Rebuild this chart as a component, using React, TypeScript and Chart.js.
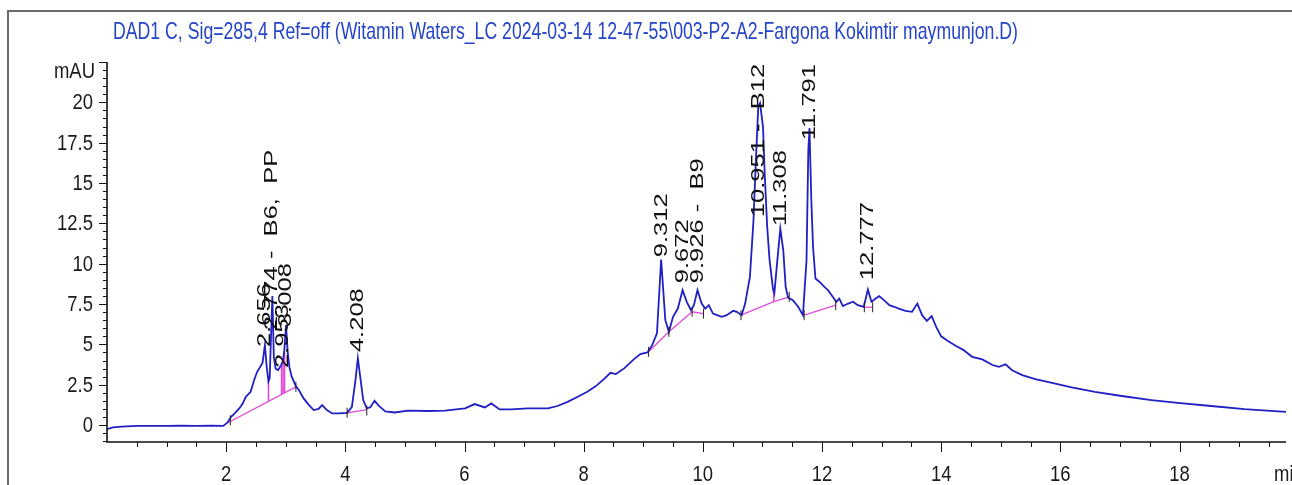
import React, { useEffect, useRef } from "react";
import { Chart, registerables } from "chart.js";

Chart.register(...registerables);

const TITLE =
  "DAD1 C, Sig=285,4 Ref=off (Witamin Waters_LC 2024-03-14 12-47-55\\003-P2-A2-Fargona Kokimtir maymunjon.D)";
const Y_UNIT = "mAU";
const X_UNIT = "min";
const X_TICK_LABELS = [2, 4, 6, 8, 10, 12, 14, 16, 18];
const Y_TICK_LABELS = [0, 2.5, 5, 7.5, 10, 12.5, 15, 17.5, 20];

// retention time (min)
const times = [
  0.0, 0.1, 0.25, 0.5, 0.75, 1.0, 1.25, 1.5, 1.75, 1.95, 2.02, 2.08, 2.15, 2.22, 2.28, 2.33, 2.41, 2.47,
  2.52, 2.57, 2.61, 2.65, 2.68, 2.71, 2.73, 2.775, 2.8, 2.83, 2.87, 2.92, 2.95, 2.975, 3.005, 3.03,
  3.06, 3.1, 3.17, 3.22, 3.3, 3.39, 3.47, 3.55, 3.61, 3.69, 3.78, 3.89, 4.03, 4.11, 4.17, 4.21, 4.25,
  4.3, 4.36, 4.42, 4.49, 4.56, 4.67, 4.83, 5.05, 5.39, 5.67, 6.01, 6.17, 6.34, 6.45, 6.59, 6.79, 7.06,
  7.4, 7.56, 7.73, 7.9, 8.06, 8.2, 8.34, 8.45, 8.54, 8.68, 8.84, 8.95, 9.07, 9.15, 9.23, 9.3, 9.37,
  9.43, 9.5, 9.58, 9.66, 9.73, 9.8, 9.85, 9.91, 9.98, 10.04, 10.1, 10.17, 10.24, 10.32, 10.4, 10.51,
  10.57, 10.65, 10.71, 10.79, 10.85, 10.89, 10.93, 10.96, 11.01, 11.04, 11.08, 11.12, 11.18, 11.2,
  11.24, 11.3, 11.35, 11.39, 11.43, 11.51, 11.6, 11.68, 11.74, 11.77, 11.79, 11.82, 11.85, 11.89,
  11.96, 12.04, 12.1, 12.18, 12.24, 12.29, 12.35, 12.44, 12.52, 12.6, 12.7, 12.77, 12.83, 12.9,
  12.96, 13.04, 13.13, 13.21, 13.29, 13.4, 13.51, 13.6, 13.68, 13.76, 13.84, 13.92, 14.0, 14.12,
  14.25, 14.37, 14.52, 14.69, 14.86, 14.97, 15.08, 15.19, 15.36, 15.58, 15.86, 16.19, 16.58, 17.03,
  17.53, 17.97, 18.53, 19.09, 19.79,
];

// absorbance (mAU)
const signal = [
  -0.25, -0.15, -0.1, -0.05, -0.05, -0.05, -0.03, -0.05, -0.03, -0.05, 0.15, 0.5, 0.75, 1.03, 1.35, 1.75,
  2.06, 2.79, 3.3, 3.6, 3.85, 4.95, 3.6, 2.7, 2.9, 8.0, 4.2, 3.5, 3.4, 3.7, 3.95, 4.6, 6.2, 4.64, 3.6,
  3.0, 2.41, 2.17, 1.65, 1.24, 0.93, 1.0, 1.24, 0.93, 0.72, 0.72, 0.76, 1.13, 2.79, 4.15, 2.99, 1.55,
  1.03, 1.1, 1.5, 1.2, 0.85, 0.78, 0.9, 0.87, 0.89, 1.03, 1.3, 1.09, 1.34, 0.97, 0.97, 1.03, 1.03, 1.18,
  1.44, 1.75, 2.06, 2.4, 2.85, 3.24, 3.16, 3.51, 4.07, 4.4, 4.5, 4.95, 5.68, 10.26, 6.5, 5.78, 6.71,
  7.22, 8.36, 7.64, 7.12, 7.43, 8.36, 7.53, 7.22, 7.43, 6.91, 6.81, 6.71, 6.81, 7.08, 7.02, 6.81, 7.53,
  9.18, 12.69, 16.4, 19.71, 19.95, 18.47, 15.4, 12.28, 10.22, 8.36, 8.15, 9.8, 12.17, 10.83, 8.56, 7.9,
  7.74, 7.33, 6.81, 10.22, 17.0, 18.4, 14.0, 11.0, 9.08, 8.87, 8.56, 8.36, 7.95, 7.64, 7.84, 7.37, 7.53,
  7.64, 7.43, 7.33, 8.4, 7.64, 7.84, 7.99, 7.74, 7.43, 7.33, 7.22, 7.08, 7.02, 7.53, 6.81, 6.45, 6.75,
  6.05, 5.5, 5.2, 4.9, 4.66, 4.23, 4.07, 3.72, 3.61, 3.76, 3.4, 3.1, 2.85, 2.62, 2.33, 2.06, 1.8, 1.55,
  1.38, 1.18, 0.99, 0.82,
];

// integration baselines: [time, mAU] vertices
const baselines = [
  [[2.03, 0.14], [3.17, 2.37]],
  [[4.03, 0.76], [4.36, 0.95]],
  [[9.09, 4.54], [9.43, 5.78], [9.82, 7.02], [10.01, 6.91]],
  [[10.64, 6.81], [11.18, 7.64], [11.45, 7.95]],
  [[11.7, 6.81], [12.23, 7.43]],
  [[12.71, 7.3], [12.85, 7.3]],
];

// peak drop lines: [time, baseline mAU, signal mAU]
const dropLines = [
  [2.71, 1.47, 2.7],
  [2.93, 1.9, 3.7],
  [2.955, 1.95, 3.95],
  [2.98, 2.0, 4.5],
  [11.19, 7.66, 8.2],
];

// integration start/end marks: [time, mAU]
const marks = [
  [2.07, 0.3], [3.17, 2.37], [4.03, 0.76], [4.36, 0.9], [9.09, 4.54], [9.43, 5.78], [9.82, 7.02],
  [10.01, 6.91], [10.64, 6.81], [11.45, 7.95], [11.7, 6.81], [12.23, 7.43], [12.71, 7.3], [12.85, 7.3],
];

const peakRT = [2.656, 2.774, 2.953, 3.008, 4.208, 9.312, 9.672, 9.926, 10.951, 11.308, 11.791, 12.777];
const peakNames = ["", "B6,  PP", "", "", "", "", "", "B9", "B12", "", "", ""];
const labelAnchor = [4.83, 5.88, 3.53, 6.07, 4.52, 10.4, 8.79, 8.79, 12.88, 12.32, 17.65, 8.98];

const TRACE = "#2020c4";
const MAGENTA = "#e04cd8";
const FONT = '"Liberation Sans", Arial, sans-serif';

const decorPlugin = {
  id: "decor",
  afterDraw(chart: any) {
    const ctx: CanvasRenderingContext2D = chart.ctx;
    const xs = chart.scales.x;
    const ys = chart.scales.y;
    const area = chart.chartArea;
    ctx.save();

    // outer frame
    ctx.strokeStyle = "#6a6a6a";
    ctx.lineWidth = 2;
    ctx.beginPath();
    ctx.moveTo(8, 485);
    ctx.lineTo(8, 11);
    ctx.lineTo(1292, 11);
    ctx.stroke();

    // title
    ctx.fillStyle = "#2545c8";
    ctx.font = "24px " + FONT;
    ctx.textAlign = "left";
    ctx.textBaseline = "alphabetic";
    const tw = ctx.measureText(TITLE).width;
    ctx.save();
    ctx.translate(113, 39);
    ctx.scale(905 / tw, 1);
    ctx.fillText(TITLE, 0, 0);
    ctx.restore();

    // axes
    ctx.strokeStyle = "#111";
    ctx.lineWidth = 1.6;
    ctx.beginPath();
    ctx.moveTo(area.left, area.top);
    ctx.lineTo(area.left, area.bottom);
    ctx.lineTo(area.right, area.bottom);
    ctx.stroke();

    ctx.lineWidth = 1;
    ctx.beginPath();
    for (let v = -1; v <= ys.max + 1e-6; v += 0.5) {
      const y = Math.round(ys.getPixelForValue(v)) + 0.5;
      const major = Math.abs(v / 2.5 - Math.round(v / 2.5)) < 1e-6;
      ctx.moveTo(area.left, y);
      ctx.lineTo(area.left - (major ? 8 : 4), y);
    }
    for (let t = 0.5; t <= xs.max; t += 0.5) {
      const x = Math.round(xs.getPixelForValue(t)) + 0.5;
      const major = Math.abs(t / 2 - Math.round(t / 2)) < 1e-6;
      ctx.moveTo(x, area.bottom);
      ctx.lineTo(x, area.bottom + (major ? 10 : 5));
    }
    ctx.stroke();

    // tick labels
    ctx.fillStyle = "#1a1a1a";
    ctx.font = "22px " + FONT;
    const sx = 0.84;
    const drawText = (s: string, x: number, y: number, align: CanvasTextAlign) => {
      ctx.save();
      ctx.translate(x, y);
      ctx.scale(sx, 1);
      ctx.textAlign = align;
      ctx.textBaseline = "middle";
      ctx.fillText(s, 0, 0);
      ctx.restore();
    };
    Y_TICK_LABELS.forEach((v) => drawText(String(v), area.left - 14, ys.getPixelForValue(v) + 1, "right"));
    drawText(Y_UNIT, area.left - 12, area.top + 10, "right");
    X_TICK_LABELS.forEach((t) => drawText(String(t), xs.getPixelForValue(t), area.bottom + 33, "center"));
    drawText(X_UNIT, area.right - 12, area.bottom + 33, "left");

    // peak labels
    ctx.fillStyle = "#111";
    ctx.font = "18px " + FONT;
    peakRT.forEach((rt, i) => {
      const txt = rt.toFixed(3) + (peakNames[i] ? " -  " + peakNames[i] : "");
      ctx.save();
      ctx.translate(xs.getPixelForValue(rt), ys.getPixelForValue(labelAnchor[i]));
      ctx.rotate(-Math.PI / 2);
      ctx.scale(1.42, 1);
      ctx.textAlign = "left";
      ctx.textBaseline = "middle";
      ctx.fillText(txt, 0, 0);
      ctx.restore();
    });
    ctx.restore();
  },
};

export default function App() {
  const ref = useRef<HTMLCanvasElement | null>(null);
  useEffect(() => {
    if (!ref.current) return;
    const datasets: any[] = [];
    datasets.push({
      type: "scatter",
      data: marks.map(([t, v]) => ({ x: t, y: v })),
      pointStyle: "line",
      rotation: 90,
      radius: 5,
      pointBorderColor: "#222",
      pointBorderWidth: 1,
      showLine: false,
    });
    datasets.push({
      type: "line",
      data: times.map((t, i) => ({ x: t, y: signal[i] })),
      borderColor: TRACE,
      borderWidth: 1.8,
      pointRadius: 0,
      tension: 0,
    });
    baselines.forEach((b) =>
      datasets.push({
        type: "line",
        data: b.map(([t, v]) => ({ x: t, y: v })),
        borderColor: MAGENTA,
        borderWidth: 1.3,
        pointRadius: 0,
      })
    );
    dropLines.forEach(([t, a, b]) =>
      datasets.push({
        type: "line",
        data: [{ x: t, y: a }, { x: t, y: b }],
        borderColor: MAGENTA,
        borderWidth: 1.6,
        pointRadius: 0,
      })
    );
    const chart = new Chart(ref.current, {
      type: "line",
      data: { datasets },
      options: {
        animation: false,
        responsive: false,
        devicePixelRatio: 1,
        layout: { padding: { left: 107, right: 0, top: 62, bottom: 43 } },
        plugins: { legend: { display: false }, tooltip: { enabled: false }, title: { display: false } },
        scales: {
          x: { type: "linear", min: 0, max: 19.787, display: false },
          y: { type: "linear", min: -1.05, max: 22.5, display: false },
        },
      },
      plugins: [decorPlugin],
    } as any);
    return () => chart.destroy();
  }, []);
  return (
    <div style={{ position: "absolute", left: 0, top: 0, width: 1292, height: 485, background: "#fff" }}>
      <canvas ref={ref} width={1292} height={485} style={{ display: "block" }} />
    </div>
  );
}
